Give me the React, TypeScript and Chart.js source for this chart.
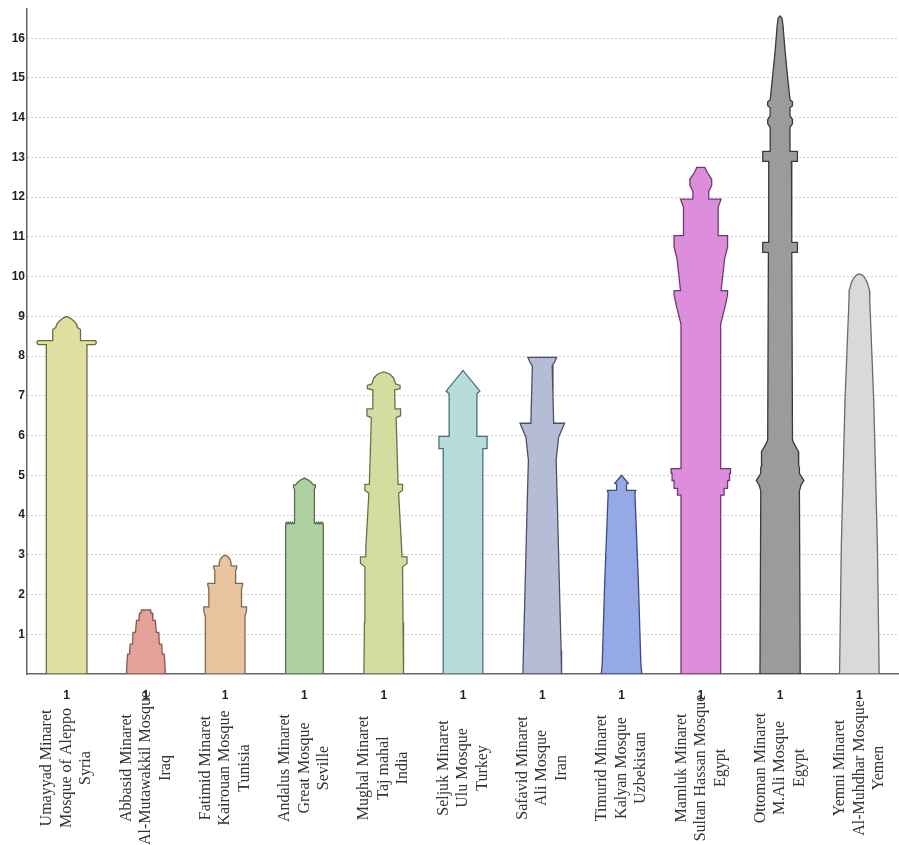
import React, { useEffect, useRef } from 'react';
import { Chart, registerables } from 'chart.js';

Chart.register(...registerables);

// Category labels (three lines each)
const categoryLines: string[][] = [
  ['Umayyad Minaret', 'Mosque of Aleppo', 'Syria'],
  ['Abbasid Minaret', 'Al-Mutawakkil Mosque', 'Iraq'],
  ['Fatimid Minaret', 'Kairouan Mosque', 'Tunisia'],
  ['Andalus Minaret', 'Great Mosque', 'Seville'],
  ['Mughal Minaret', 'Taj mahal', 'India'],
  ['Seljuk Minaret', 'Ulu Mosque', 'Turkey'],
  ['Safavid Minaret', 'Ali Mosque', 'Iran'],
  ['Timurid Minaret', 'Kalyan Mosque', 'Uzbekistan'],
  ['Mamluk Minaret', 'Sultan Hassan Mosque', 'Egypt'],
  ['Ottoman Minaret', 'M.Ali Mosque', 'Egypt'],
  ['Yemni Minaret', 'Al-Muhdhar Mosque', 'Yemen'],
];

const xTickLabel = '1';
const yTicks = [1, 2, 3, 4, 5, 6, 7, 8, 9, 10, 11, 12, 13, 14, 15, 16];
const yMax = 16.73;
const slot = 80; // x units per category

// Profiles: [height, half-width] from base to top (right side; mirrored for left)
const umayyad = [[0, 20.5], [8.29, 20.5], [8.29, 28.5], [8.31, 29.5], [8.35, 30], [8.39, 29], [8.39, 14], [8.67, 14], [8.72, 11], [8.8, 10], [8.88, 7.5], [8.95, 4], [9.0, 0]];
const abbasid = [[0, 19.5], [0.12, 19.5], [0.5, 18.5], [0.5, 16.5], [0.75, 16], [0.75, 13.5], [1.05, 13], [1.05, 10.5], [1.35, 9.5], [1.35, 7], [1.53, 6.5], [1.53, 5], [1.61, 4.5], [1.61, 0]];
const fatimid = [[0, 20], [1.45, 20], [1.58, 21.5], [1.69, 21.5], [1.69, 16.5], [2.15, 16.5], [2.22, 17.5], [2.28, 17.5], [2.28, 10.5], [2.6, 10.5], [2.66, 11.5], [2.72, 11.5], [2.72, 6], [2.8, 6], [2.88, 5], [2.95, 3], [2.99, 0]];
const andalus = [[0, 19], [3.78, 19], [3.82, 18], [3.78, 17], [3.82, 16], [3.78, 15], [3.82, 14], [3.78, 13], [3.82, 12], [3.78, 11], [3.8, 10], [4.65, 10], [4.7, 11], [4.76, 11], [4.76, 9], [4.82, 7], [4.88, 4], [4.93, 0]];
const mughal = [[0, 20], [1.3, 19.5], [2.7, 19], [2.78, 23.5], [2.95, 23.5], [2.95, 18.5], [3.2, 18], [4.55, 15], [4.62, 19], [4.77, 19], [4.77, 14.5], [6.45, 12.5], [6.5, 17], [6.67, 17], [6.67, 11.5], [7.15, 11], [7.18, 16.5], [7.26, 16.5], [7.3, 12], [7.45, 10], [7.55, 6], [7.6, 0]];
const seljuk = [[0, 20], [5.67, 20], [5.67, 24.3], [5.98, 24.3], [5.98, 14], [7.05, 14], [7.12, 17], [7.64, 0]];
const safavid = [[0, 19.5], [0.6, 19], [2.5, 17], [4.3, 15.2], [5.38, 14], [5.96, 16.5], [6.31, 22.5], [6.31, 11.5], [7.0, 10.8], [7.75, 10], [7.85, 12.5], [7.97, 14.5], [7.97, 0]];
const timurid = [[0, 20.5], [0.25, 19.5], [2.3, 17], [4.55, 13.5], [4.62, 14.3], [4.62, 5], [4.78, 5], [4.8, 6.8], [5.0, 0]];
const mamluk = [[0, 20], [4.5, 20], [4.5, 23.5], [4.67, 23.5], [4.67, 27], [4.87, 27], [4.87, 29], [5.05, 29], [5.05, 30], [5.17, 30], [5.17, 20], [8.8, 20], [9.3, 25], [9.55, 27], [9.65, 27], [9.65, 20.5], [10.45, 24], [10.75, 27], [11.03, 27], [11.03, 17.5], [11.75, 17.5], [11.95, 20.5], [11.95, 8], [12.15, 8], [12.3, 11], [12.45, 11], [12.62, 6.5], [12.75, 4], [12.75, 0]];
const ottoman = [[0, 20.3], [4.6, 19.5], [4.75, 21], [4.87, 24], [4.95, 22], [5.05, 19.5], [5.2, 19.5], [5.25, 18.5], [5.45, 19], [5.6, 18.5], [5.71, 16], [5.88, 12.5], [10.61, 11.8], [10.61, 17.5], [10.86, 17.5], [10.86, 11.8], [12.9, 11.5], [12.9, 17.5], [13.15, 17.5], [13.15, 10], [13.75, 10], [13.85, 12.5], [13.95, 12.5], [14.05, 10], [14.25, 10], [14.3, 12.5], [14.4, 12.5], [14.45, 10], [15.0, 7.7], [15.68, 5], [16.3, 3], [16.5, 2], [16.56, 0]];
const yemeni = [[0, 20], [3.24, 18.2], [6.88, 14.5], [9.4, 10.5], [9.65, 10.3], [9.85, 8], [9.97, 5.5], [10.04, 3], [10.07, 0]];

const profiles = [umayyad, abbasid, fatimid, andalus, mughal, seljuk, safavid, timurid, mamluk, ottoman, yemeni];
const fillColors = ['#dfe0a0', '#e4a29b', '#e8c59f', '#afd0a1', '#d5dc9f', '#b6dcdc', '#b5bdd6', '#95a9e6', '#dc8edc', '#9b9b9b', '#d9d9d9'];
const strokeColors = ['#6b6b45', '#8a5550', '#7f6a50', '#55704f', '#6b704a', '#4f6f72', '#4c5066', '#3c4a80', '#6e3a6e', '#3a3a3a', '#6a6a6a'];

function outline(profile: number[][], center: number) {
  const left = profile.map(([h, w]) => ({ x: center - w, y: h }));
  const right = profile.slice().reverse().map(([h, w]) => ({ x: center + w, y: h }));
  const pts = [...left, ...right];
  pts.push({ ...pts[0] });
  return pts;
}

const categoryLabelPlugin = {
  id: 'categoryLabels',
  afterDraw(chart: any) {
    const xs = chart.scales.x;
    const ctx = chart.ctx;
    const cy = chart.chartArea.bottom + 94;
    ctx.save();
    ctx.font = '16px "Liberation Serif", "Times New Roman", serif';
    ctx.fillStyle = '#333';
    ctx.textAlign = 'center';
    ctx.textBaseline = 'middle';
    categoryLines.forEach((lines, i) => {
      const px = xs.getPixelForValue(i * slot);
      ctx.save();
      ctx.translate(px, cy);
      ctx.rotate(-Math.PI / 2);
      lines.forEach((line, j) => {
        ctx.fillText(line, 0, (j - (lines.length - 1) / 2) * 19.5);
      });
      ctx.restore();
    });
    ctx.restore();
  },
};

export default function App() {
  const ref = useRef<HTMLCanvasElement | null>(null);
  useEffect(() => {
    if (!ref.current) return;
    const datasets = profiles.map((p, i) => ({
      label: categoryLines[i][0],
      data: outline(p, i * slot),
      showLine: true,
      fill: 'shape',
      backgroundColor: fillColors[i],
      borderColor: strokeColors[i],
      borderWidth: 1.3,
      pointRadius: 0,
      pointHoverRadius: 0,
      tension: 0,
    }));
    const chart = new Chart(ref.current, {
      type: 'scatter',
      data: { datasets } as any,
      plugins: [categoryLabelPlugin],
      options: {
        animation: false,
        responsive: false,
        maintainAspectRatio: false,
        devicePixelRatio: 1,
        layout: { padding: { top: 8, left: 0, right: 0, bottom: 0 } },
        plugins: { legend: { display: false }, tooltip: { enabled: false } },
        events: [],
        scales: {
          x: {
            type: 'linear',
            min: -slot / 2,
            max: categoryLines.length * slot - slot / 2,
            afterBuildTicks: (axis: any) => {
              axis.ticks = categoryLines.map((_, i) => ({ value: i * slot }));
            },
            afterFit: (axis: any) => {
              axis.height = 171;
            },
            grid: { display: false },
            border: { display: true, color: '#666', width: 1.5 },
            ticks: {
              autoSkip: false,
              maxRotation: 0,
              minRotation: 0,
              padding: 6,
              color: '#222',
              font: { family: '"Liberation Sans", Arial, sans-serif', size: 12, weight: 'bold' },
              callback: () => xTickLabel,
            },
          },
          y: {
            type: 'linear',
            min: 0,
            max: yMax,
            afterBuildTicks: (axis: any) => {
              axis.ticks = yTicks.map((v) => ({ value: v }));
            },
            afterFit: (axis: any) => {
              axis.width = 27;
            },
            grid: { display: true, color: '#a0a0a0', lineWidth: 1, drawTicks: false },
            border: { display: true, color: '#666', width: 1.5, dash: [1, 3] },
            ticks: {
              padding: 2,
              color: '#222',
              font: { family: '"Liberation Sans", Arial, sans-serif', size: 12, weight: 'bold' },
            },
          },
        },
      } as any,
    });
    return () => chart.destroy();
  }, []);
  return (
    <div style={{ position: 'fixed', left: 0, top: 0, width: 899, height: 845, background: '#fff' }}>
      <canvas ref={ref} width={899} height={845} />
    </div>
  );
}
